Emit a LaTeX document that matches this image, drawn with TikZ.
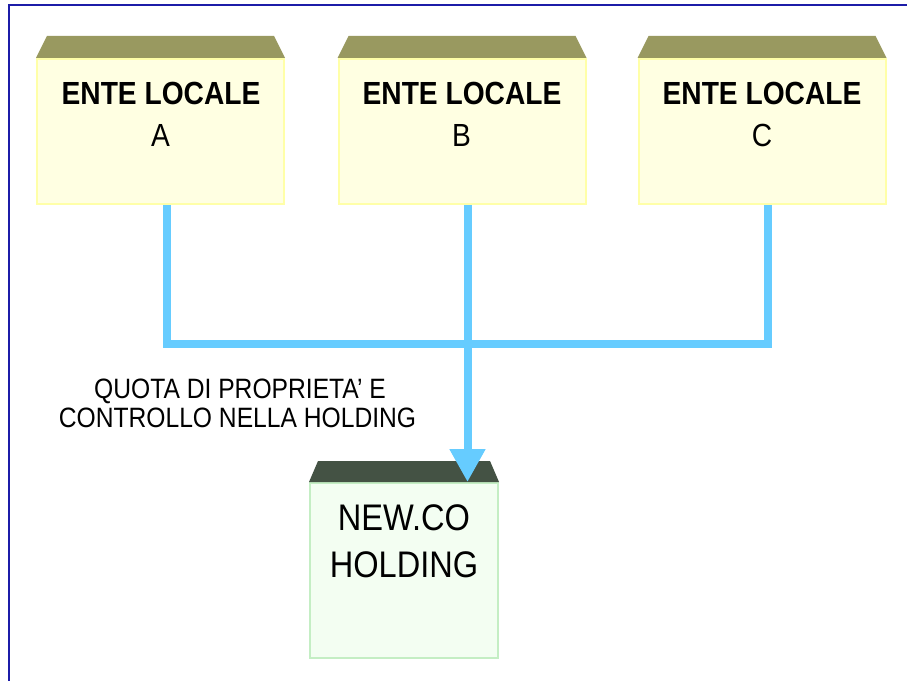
\documentclass[tikz,border=0pt]{standalone}
\usepackage{fontspec}
\setmainfont{Liberation Sans}[FakeStretch=0.88]
\usetikzlibrary{arrows.meta}
\definecolor{framecol}{HTML}{1C1CA8}
\definecolor{entefill}{HTML}{FFFFE2}
\definecolor{entedraw}{HTML}{FFFFA8}
\definecolor{enteroof}{HTML}{999960}
\definecolor{holdfill}{HTML}{F3FEF2}
\definecolor{holddraw}{HTML}{C4EEC4}
\definecolor{holdroof}{HTML}{445244}
\definecolor{linkcol}{HTML}{66CCFF}
\tikzset{
  entebox/.style={draw=entedraw, fill=entefill, line width=1.5pt, minimum width=185.25pt, minimum height=108.75pt, inner sep=0pt},
  holdbox/.style={draw=holddraw, fill=holdfill, line width=1.5pt, minimum width=141pt, minimum height=131.25pt, inner sep=0pt},
  enteroofstyle/.style={fill=enteroof},
  holdroofstyle/.style={fill=holdroof},
  boxtitle/.style={anchor=base, inner sep=0pt, font=\fontsize{24pt}{28pt}\selectfont\bfseries},
  boxletter/.style={anchor=base, inner sep=0pt, font=\fontsize{24pt}{28pt}\selectfont},
  holdtext/.style={anchor=base, inner sep=0pt, font=\fontsize{27.75pt}{32pt}\selectfont},
  notetext/.style={anchor=base, inner sep=0pt, font=\fontsize{21pt}{24pt}\selectfont},
  link/.style={draw=linkcol, line width=6pt, line join=miter},
}
\begin{document}
\begin{tikzpicture}[x=0.75pt, y=-0.75pt]
\useasboundingbox (0,0) rectangle (907,681);
\fill[white] (0,0) rectangle (907,681);
% page frame (top and left edges)
\draw[framecol, line width=1.5pt] (9,681) -- (9,5) -- (907,5);

% local authorities
\node[entebox] (A) at (160.5,131.5) {};
\node[entebox] (B) at (462,131.5) {};
\node[entebox] (C) at (762,131.5) {};
\foreach \b in {A,B,C}{
  \fill[enteroofstyle] (\b.north west) -- ++(11,-22) -- ([xshift=-8.25pt,yshift=16.5pt]\b.north east) -- (\b.north east) -- cycle;
}
\node[boxtitle] (At) at (161,105) {ENTE LOCALE};
\node[boxletter] (Al) at (160.5,147) {A};
\node[boxtitle] (Bt) at (462,105) {ENTE LOCALE};
\node[boxletter] (Bl) at (461.5,147) {B};
\node[boxtitle] (Ct) at (762,105) {ENTE LOCALE};
\node[boxletter] (Cl) at (762,147) {C};

% holding
\node[holdbox] (H) at (404,570.5) {};
\fill[holdroofstyle] (H.north west) -- ++(9,-21) -- ([xshift=-6.75pt,yshift=15.75pt]H.north east) -- (H.north east) -- cycle;
\node[holdtext] (Ht) at (404,530) {NEW.CO};
\node[holdtext] (Hl) at (404,577) {HOLDING};

% ownership links
\coordinate (J) at (467.5,344);
\draw[link] ([xshift=4.5pt]A.south) |- (J) -| ([xshift=4.5pt]C.south);
\draw[link, -{Triangle[width=25.5pt,length=24.75pt]}] ([xshift=4.125pt]B.south) -- ([xshift=47.625pt]H.north);

\node[notetext] (N1) at (240,398) {QUOTA DI PROPRIETA’ E};
\node[notetext] (N2) at (237.5,427) {CONTROLLO NELLA HOLDING};
\end{tikzpicture}
\end{document}
